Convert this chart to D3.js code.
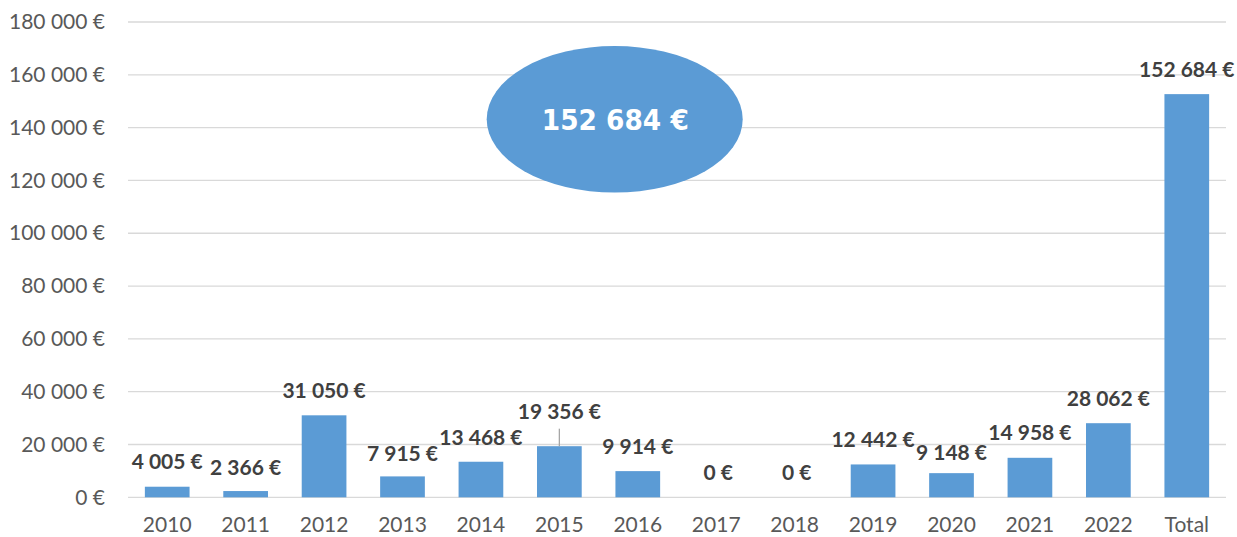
<!DOCTYPE html>
<html>
<head>
<meta charset="utf-8">
<script src="https://cdn.jsdelivr.net/npm/d3@7/dist/d3.min.js"></script>
<style>
  html, body { margin: 0; padding: 0; background: #fff; }
  svg { display: block; }
</style>
</head>
<body>
<svg id="chart" width="1237" height="537"></svg>
<script>
// Yearly amounts, plus the cumulated total column
const years = ["2010", "2011", "2012", "2013", "2014", "2015", "2016", "2017", "2018", "2019", "2020", "2021", "2022"];
const yearValues = [4005, 2366, 31050, 7915, 13468, 19356, 9914, 0, 0, 12442, 9148, 14958, 28062];
const totalLabel = "Total";
const totalValue = 152684;

const categories = years.concat([totalLabel]);
const values = yearValues.concat([totalValue]);

const yTicks = [0, 20000, 40000, 60000, 80000, 100000, 120000, 140000, 160000, 180000];

// Hand-placed nudges for a few value labels (pixels, relative to the default spot)
const labelDx = [0, 0, 0, 0, 0, 0, 0, 2, 2, 0, 0, 0, 0, 0];
const labelDy = [0, 1, 0, 2, 1, -10, 0, 0, 0, 0, 4, 0, 0, 0];

const fr = d3.formatLocale({ decimal: ",", thousands: " ", grouping: [3], currency: ["", " €"] });
const euro = v => fr.format(",.0f")(v) + " €";

const svg = d3.select("#chart");
const margin = { left: 128, right: 11, top: 22, bottom: 40 };
const W = 1237, H = 537;

const x = d3.scaleBand()
  .domain(categories)
  .range([margin.left, W - margin.right])
  .paddingInner(0.43)
  .paddingOuter(0.215);

const y = d3.scaleLinear()
  .domain([0, 180000])
  .range([497.3, margin.top]);

// Horizontal gridlines
svg.append("g")
  .selectAll("line")
  .data(yTicks)
  .join("line")
  .attr("x1", margin.left)
  .attr("x2", W - margin.right)
  .attr("y1", d => y(d))
  .attr("y2", d => y(d))
  .attr("stroke", "#d9d9d9")
  .attr("stroke-width", 1.3);

// Y axis labels
const yAxis = d3.axisLeft(y).tickValues(yTicks).tickFormat(euro).tickSize(0).tickPadding(0);
const gy = svg.append("g")
  .attr("transform", "translate(105,0)")
  .call(yAxis);
gy.select(".domain").remove();
gy.selectAll("text")
  .attr("font-family", "Lato, 'Open Sans', sans-serif")
  .attr("font-size", 21)
  .attr("fill", "#595959");

// X axis labels
const xAxis = d3.axisBottom(x).tickSize(0).tickPadding(0);
const gx = svg.append("g")
  .attr("transform", "translate(0,514)")
  .call(xAxis);
gx.select(".domain").remove();
gx.selectAll("text")
  .attr("dy", "0.85em")
  .attr("font-family", "Lato, 'Open Sans', sans-serif")
  .attr("font-size", 21)
  .attr("fill", "#595959");

// Bars
svg.append("g")
  .selectAll("rect")
  .data(values)
  .join("rect")
  .attr("x", (d, i) => x(categories[i]))
  .attr("width", x.bandwidth())
  .attr("y", d => y(d))
  .attr("height", d => y(0) - y(d))
  .attr("fill", "#5b9bd5");

// Leader line for the label lifted above its bar
values.forEach((v, i) => {
  if (labelDy[i] < -5) {
    const cx = x(categories[i]) + x.bandwidth() / 2;
    svg.append("line")
      .attr("x1", cx).attr("x2", cx)
      .attr("y1", y(v) - 17.5 + labelDy[i] + 10)
      .attr("y2", y(v))
      .attr("stroke", "#a6a6a6")
      .attr("stroke-width", 1.3);
  }
});

// Value labels
svg.append("g")
  .selectAll("text")
  .data(values)
  .join("text")
  .attr("x", (d, i) => x(categories[i]) + x.bandwidth() / 2 + labelDx[i])
  .attr("y", (d, i) => y(d) - 17.5 + labelDy[i])
  .attr("text-anchor", "middle")
  .attr("font-family", "Lato, 'Open Sans', sans-serif")
  .attr("font-weight", "bold")
  .attr("font-size", 21)
  .attr("fill", "#404040")
  .text(d => euro(d));

// Highlight bubble with the overall total
const bubble = svg.append("g");
bubble.append("ellipse")
  .attr("cx", 614.7)
  .attr("cy", 119.3)
  .attr("rx", 128)
  .attr("ry", 73.3)
  .attr("fill", "#5b9bd5");
bubble.append("text")
  .attr("x", 615.3)
  .attr("y", 130)
  .attr("text-anchor", "middle")
  .attr("font-family", "'DejaVu Sans', Verdana, sans-serif")
  .attr("font-weight", "bold")
  .attr("font-size", 28)
  .attr("textLength", 147)
  .attr("lengthAdjust", "spacingAndGlyphs")
  .attr("fill", "#ffffff")
  .text(euro(d3.sum(yearValues)));
</script>
</body>
</html>
